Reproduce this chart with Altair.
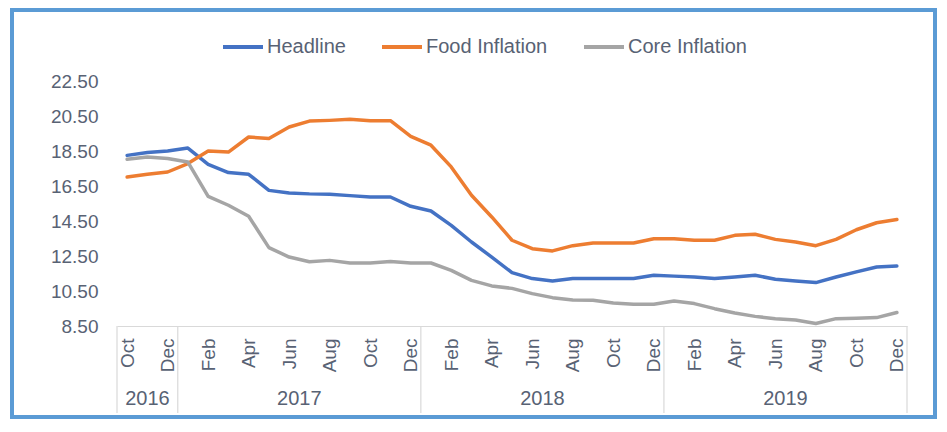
import json
import altair as alt
import pandas as pd

months = ["Oct", "Nov", "Dec",
          "Jan", "Feb", "Mar", "Apr", "May", "Jun", "Jul", "Aug", "Sep", "Oct", "Nov", "Dec",
          "Jan", "Feb", "Mar", "Apr", "May", "Jun", "Jul", "Aug", "Sep", "Oct", "Nov", "Dec",
          "Jan", "Feb", "Mar", "Apr", "May", "Jun", "Jul", "Aug", "Sep", "Oct", "Nov", "Dec"]
month_years = [2016] * 3 + [2017] * 12 + [2018] * 12 + [2019] * 12

headline = [18.25, 18.41, 18.50,
            18.67, 17.74, 17.27, 17.17, 16.25, 16.10, 16.05, 16.03, 15.95, 15.87, 15.87, 15.34,
            15.07, 14.25, 13.30, 12.44, 11.55, 11.21, 11.07, 11.21, 11.21, 11.21, 11.21, 11.40,
            11.35, 11.30, 11.21, 11.30, 11.40, 11.17, 11.07, 10.98, 11.30, 11.59, 11.87, 11.93]
food = [17.01, 17.17, 17.30,
        17.78, 18.50, 18.44, 19.30, 19.21, 19.87, 20.21, 20.25, 20.31, 20.23, 20.23, 19.34,
        18.83, 17.59, 15.97, 14.73, 13.40, 12.92, 12.79, 13.09, 13.24, 13.24, 13.24, 13.49,
        13.49, 13.40, 13.40, 13.68, 13.74, 13.45, 13.30, 13.09, 13.45, 14.00, 14.40, 14.58]
core = [18.03, 18.16, 18.07,
        17.87, 15.91, 15.40, 14.77, 12.98, 12.44, 12.17, 12.25, 12.10, 12.10, 12.18, 12.10,
        12.10, 11.68, 11.11, 10.79, 10.65, 10.35, 10.12, 9.99, 9.97, 9.81, 9.74, 9.74,
        9.93, 9.78, 9.49, 9.24, 9.05, 8.92, 8.84, 8.64, 8.92, 8.94, 8.98, 9.27]

series_names = ["Headline", "Food Inflation", "Core Inflation"]
series_colors = ["#4472C4", "#ED7D31", "#A5A5A5"]
y_ticks = [8.5, 10.5, 12.5, 14.5, 16.5, 18.5, 20.5, 22.5]

# ---- tables built from the arrays ----
rows = []
for name, vals in zip(series_names, [headline, food, core]):
    for i, v in enumerate(vals):
        rows.append({"idx": i, "month": months[i], "year": month_years[i], "series": name, "value": v})
df = pd.DataFrame(rows)

n = len(months)
years = sorted(set(month_years))
year_df = pd.DataFrame({
    "year": [str(y) for y in years],
    "center": [sum(i for i in range(n) if month_years[i] == y) / month_years.count(y) for y in years],
})
bounds = [-0.5] + [i - 0.5 for i in range(1, n) if month_years[i] != month_years[i - 1]] + [n - 0.5]
bound_df = pd.DataFrame({"b": bounds})

FONT = "Liberation Sans"
TXT = "#586274"
W, H = 790, 245

xscale = alt.Scale(domain=[-0.5, n - 0.5], nice=False, zero=False)
yscale = alt.Scale(domain=[8.5, 22.5], nice=False, zero=False)

label_expr = json.dumps(months) + "[datum.value]"

lines = alt.Chart(df).mark_line(strokeWidth=3.5, strokeJoin="round", strokeCap="round").encode(
    x=alt.X("idx:Q", scale=xscale,
            axis=alt.Axis(values=list(range(0, n, 2)), labelExpr=label_expr, title=None,
                          labelAngle=270, labelAlign="right", labelBaseline="middle",
                          labelPadding=12, labelFontSize=19, labelColor=TXT, labelFont=FONT,
                          ticks=False, grid=False, domainColor="#D9D9D9", domainWidth=1.2,
                          labelOverlap=False, labelFlush=False)),
    y=alt.Y("value:Q", scale=yscale,
            axis=alt.Axis(values=y_ticks, format=".2f", title=None, grid=False, domain=False,
                          ticks=False, labelPadding=19, labelFontSize=19, labelColor=TXT,
                          labelFont=FONT)),
    color=alt.Color("series:N",
                    scale=alt.Scale(domain=series_names, range=series_colors),
                    sort=series_names,
                    legend=alt.Legend(title=None, orient="none", legendX=104, legendY=-56,
                                      direction="horizontal", symbolType="stroke",
                                      symbolSize=1600, symbolStrokeWidth=4,
                                      labelFontSize=20, labelFont=FONT, labelColor=TXT,
                                      labelOffset=2, columnPadding=28, padding=0)),
    order=alt.Order("idx:Q"),
)

seps = alt.Chart(bound_df).mark_rule(color="#D9D9D9", strokeWidth=1.2).encode(
    x=alt.X("b:Q", scale=xscale),
    y=alt.value(H),
    y2=alt.value(332),
)

year_text = alt.Chart(year_df).mark_text(fontSize=20, font=FONT, color=TXT, baseline="middle").encode(
    x=alt.X("center:Q", scale=xscale),
    y=alt.value(318),
    text="year:N",
)

border = alt.Chart(pd.DataFrame({"a": [0]})).mark_rect(
    filled=False, stroke="#5B9BD5", strokeWidth=4
).encode(
    x=alt.value(-105), x2=alt.value(818), y=alt.value(-71), y2=alt.value(336),
)

chart = alt.layer(border, seps, year_text, lines).properties(
    width=W, height=H,
    autosize=alt.AutoSizeParams(type="none"),
    padding={"left": 109, "top": 73, "right": 30, "bottom": 94},
    background="white",
).configure_view(stroke=None)

chart.save("out.html", embed_options={"renderer": "svg", "actions": False})
